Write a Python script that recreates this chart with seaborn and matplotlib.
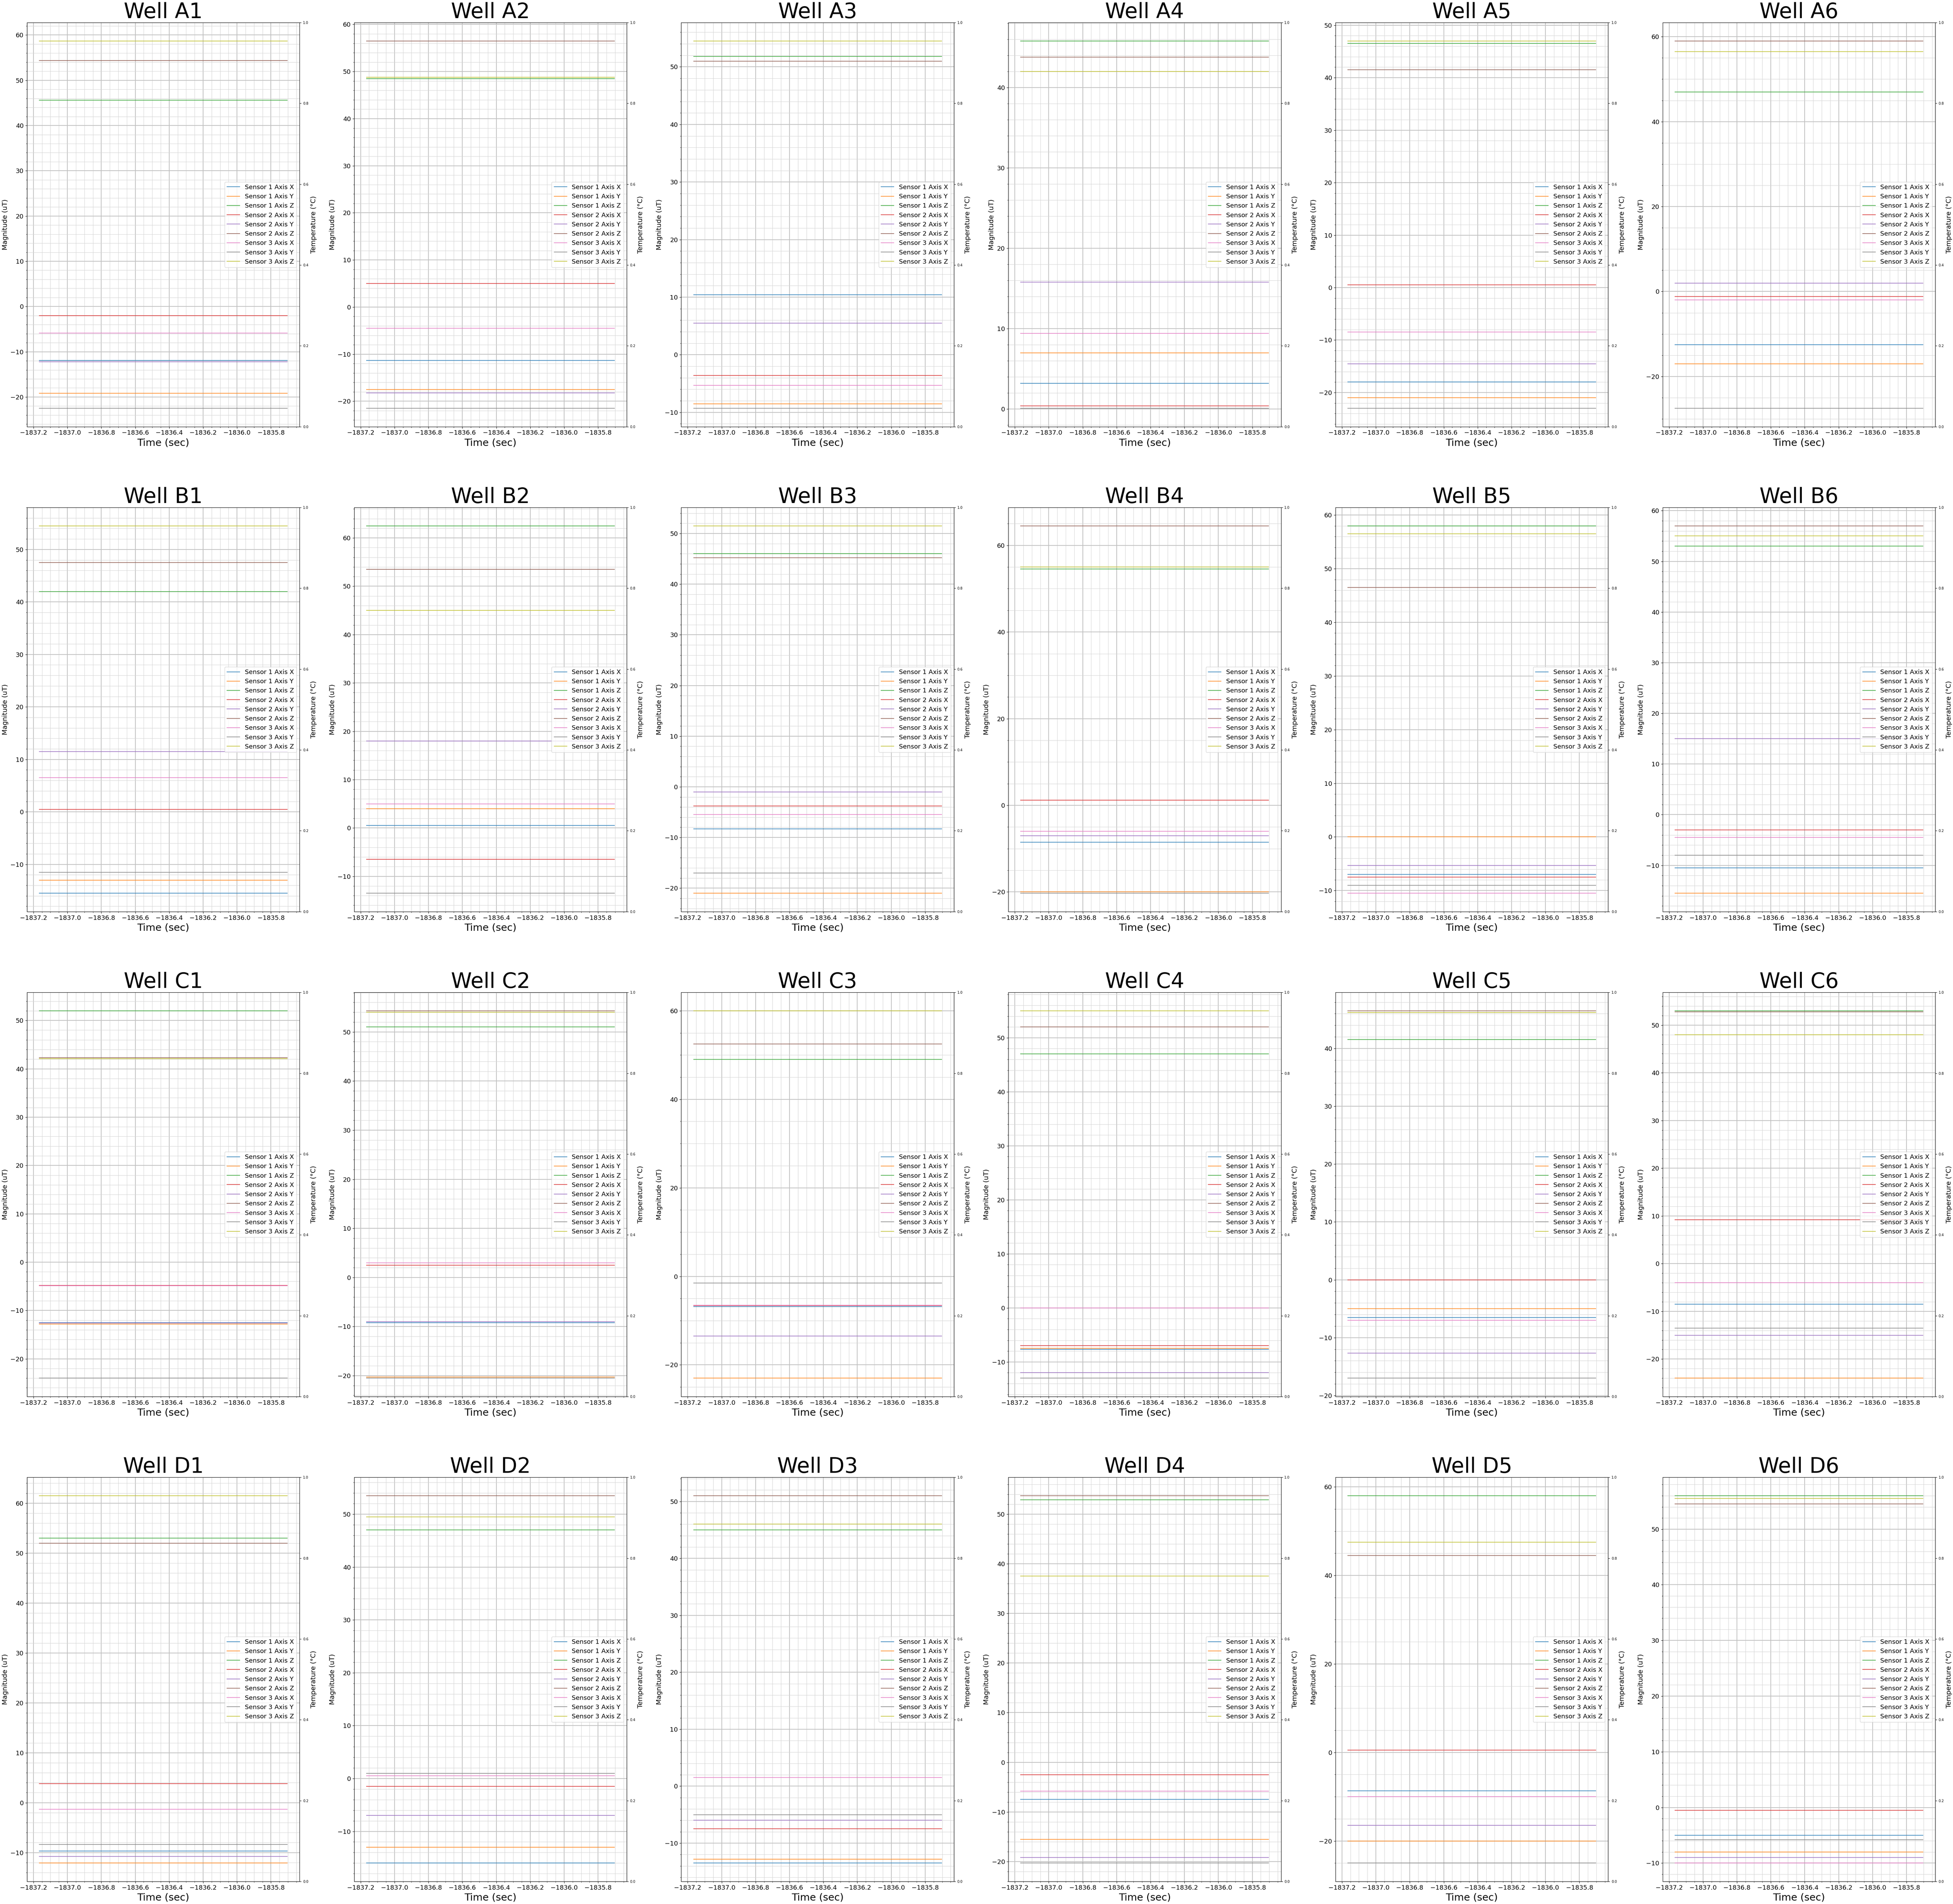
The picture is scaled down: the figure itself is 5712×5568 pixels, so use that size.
# Magnetometer readings per well, 4 x 6 grid with empty temperature axis
import numpy as np
import pandas as pd
import matplotlib
matplotlib.use("Agg")
import matplotlib.pyplot as plt
import seaborn as sns
from matplotlib.ticker import AutoMinorLocator, MultipleLocator

# ---------------- data ----------------
series_names = ["Sensor 1 Axis X", "Sensor 1 Axis Y", "Sensor 1 Axis Z",
                "Sensor 2 Axis X", "Sensor 2 Axis Y", "Sensor 2 Axis Z",
                "Sensor 3 Axis X", "Sensor 3 Axis Y", "Sensor 3 Axis Z"]

# first and last sample time (sec)
time_span = [-1837.165, -1835.704]

# mean level of each series (uT), order as series_names
A1 = [-11.9, -19.2, 45.6, -2.0, -12.2, 54.4, -5.9, -22.5, 58.7]
A2 = [-11.3, -17.5, 48.5, 5.0, -18.2, 56.5, -4.5, -21.5, 48.8]
A3 = [10.4, -8.5, 51.8, -3.6, 5.5, 51.0, -5.3, -9.3, 54.5]
A4 = [3.2, 7.0, 45.8, 0.4, 15.8, 43.8, 9.4, 0.1, 42.0]
A5 = [-18.0, -21.0, 46.5, 0.5, -14.5, 41.5, -8.5, -23.0, 47.0]
A6 = [-12.5, -17.0, 47.0, -1.2, 2.0, 59.0, -2.0, -27.5, 56.5]
B1 = [-15.5, -13.0, 42.0, 0.5, 11.5, 47.5, 6.5, -11.5, 54.5]
B2 = [0.5, 4.0, 62.5, -6.5, 18.0, 53.5, 5.0, -13.5, 45.0]
B3 = [-8.3, -21.0, 46.0, -3.8, -1.0, 45.2, -5.5, -17.0, 51.5]
B4 = [-8.5, -20.0, 54.5, 1.2, -7.0, 64.5, -6.0, -20.3, 55.0]
B5 = [-7.0, 0.0, 58.0, -7.5, -5.3, 46.5, -10.5, -9.0, 56.5]
B6 = [-10.5, -15.5, 53.0, -3.0, 15.0, 57.0, -4.5, -8.0, 55.0]
C1 = [-12.5, -12.8, 52.0, -4.8, -12.6, 42.3, -4.9, -24.0, 42.1]
C2 = [-9.2, -20.3, 51.0, 2.5, -9.0, 54.3, 3.0, -20.5, 54.0]
C3 = [-6.8, -23.0, 49.0, -6.6, -13.5, 52.5, -6.5, -1.5, 60.0]
C4 = [-7.7, -7.5, 47.0, -7.0, -12.0, 52.0, 0.0, -13.0, 55.0]
C5 = [-6.5, -5.0, 41.5, 0.0, -12.7, 46.5, -7.0, -17.0, 46.2]
C6 = [-8.5, -24.0, 53.0, 9.2, -15.0, 52.8, -4.0, -13.5, 48.0]
D1 = [-9.7, -12.1, 53.0, 3.8, -10.8, 52.0, -1.3, -8.4, 61.5]
D2 = [-16.0, -13.0, 47.0, -1.5, -7.0, 53.5, 0.5, 1.0, 49.5]
D3 = [-13.5, -12.8, 45.0, -7.5, -6.0, 51.0, 1.5, -5.0, 46.0]
D4 = [-7.5, -15.5, 52.9, -2.5, -19.2, 53.7, -5.8, -20.3, 37.5]
D5 = [-8.7, -20.0, 58.0, 0.5, -16.5, 44.5, -10.0, -25.0, 47.5]
D6 = [-5.0, -8.0, 56.0, -0.5, -9.0, 54.5, -10.0, -5.8, 55.5]

wells = ["A1", "A2", "A3", "A4", "A5", "A6",
         "B1", "B2", "B3", "B4", "B5", "B6",
         "C1", "C2", "C3", "C4", "C5", "C6",
         "D1", "D2", "D3", "D4", "D5", "D6"]
levels = [A1, A2, A3, A4, A5, A6, B1, B2, B3, B4, B5, B6,
          C1, C2, C3, C4, C5, C6, D1, D2, D3, D4, D5, D6]

palette = sns.color_palette("tab10", 9)

# ---------------- figure ----------------
fig, axes = plt.subplots(4, 6, figsize=(57.12, 55.68), dpi=100)
fig.subplots_adjust(left=0.01383, right=0.99090, top=0.98815, bottom=0.01185,
                    wspace=0.2, hspace=0.2)

for ax, well, lev in zip(axes.flat, wells, levels):
    for name, value, col in zip(series_names, lev, palette):
        df = pd.DataFrame({"time": time_span, "value": [value, value]})
        sns.lineplot(data=df, x="time", y="value", color=col, alpha=0.8,
                     linewidth=1.5, label=name, ax=ax)

    ax.set_title(f"Well {well}", fontsize=44.5)
    ax.set_xlabel("Time (sec)", fontsize=21)
    ax.set_ylabel("Magnitude (uT)", fontsize=14)
    ax.xaxis.set_major_locator(MultipleLocator(0.2))
    ax.xaxis.set_minor_locator(AutoMinorLocator(4))
    ax.yaxis.set_minor_locator(AutoMinorLocator())
    ax.ticklabel_format(axis="x", useOffset=False)
    ax.tick_params(which="major", labelsize=13.2)
    ax.grid(which="major", color="#c0c0c0", linewidth=1.5)
    ax.grid(which="minor", color="#d4d4d4", linewidth=0.8)
    ax.legend(loc="center right", fontsize=13.3)

    # temperature axis (no temperature trace recorded)
    ax2 = ax.twinx()
    ax2.set_ylim(0, 1)
    ax2.set_ylabel("Temperature (°C)", fontsize=14)
    ax2.tick_params(labelsize=7.3)

fig.savefig("out.png", dpi=100)
